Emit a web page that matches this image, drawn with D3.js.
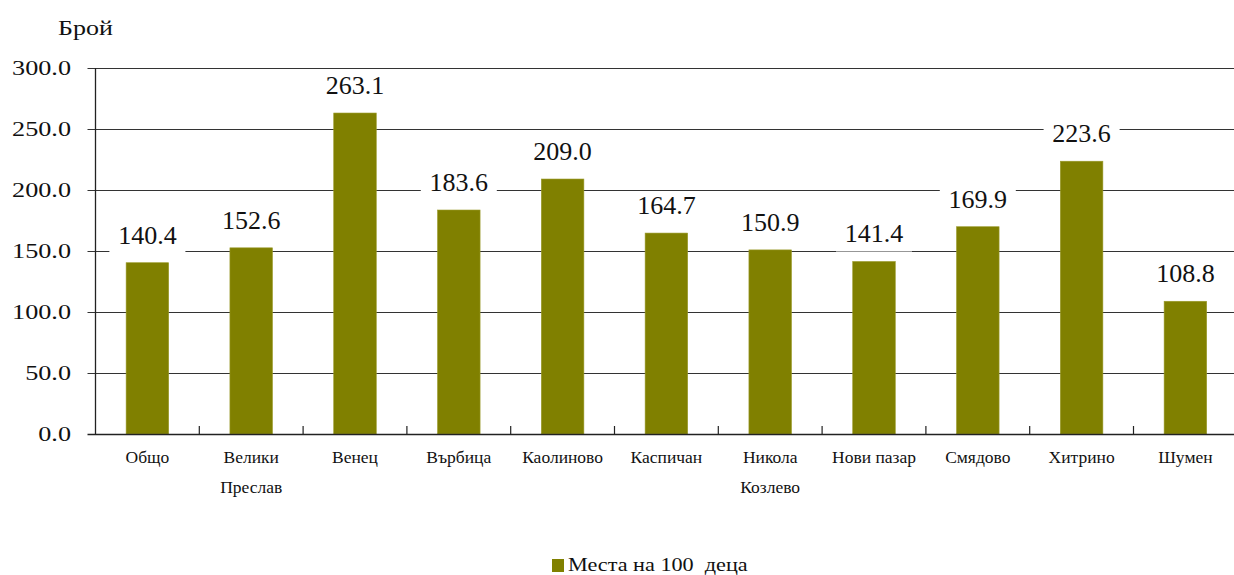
<!DOCTYPE html>
<html>
<head>
<meta charset="utf-8">
<script src="https://cdn.jsdelivr.net/npm/d3@7/dist/d3.min.js"></script>
<style>
html,body{margin:0;padding:0;background:#fff;}
svg{display:block;}
</style>
</head>
<body>
<svg id="chart" width="1234" height="575"></svg>
<script>
const categories = [["Общо"],["Велики","Преслав"],["Венец"],["Върбица"],["Каолиново"],["Каспичан"],["Никола","Козлево"],["Нови пазар"],["Смядово"],["Хитрино"],["Шумен"]];
const values = [140.4,152.6,263.1,183.6,209.0,164.7,150.9,141.4,169.9,223.6,108.8];
const yTicks = [0,50,100,150,200,250,300];
const seriesName = "Места на 100  деца";
const yTitle = "Брой";

const FONT = "'Liberation Serif', 'Times New Roman', Times, serif";
const svg = d3.select("#chart").attr("font-family", FONT);
const W = 1234;
const pL = 95.5, pR = 1237.3, pT = 68, pB = 434;
const color = "#808000";

const x = d3.scaleBand().domain(d3.range(categories.length)).range([pL, pR]);
const y = d3.scaleLinear().domain([0,300]).range([pB, pT]);
const barW = x.bandwidth()*0.41;

// gridlines
svg.append("g").selectAll("line").data(yTicks.filter(d=>d>0)).join("line")
  .attr("x1", pL-8).attr("x2", W).attr("y1", d=>Math.round(y(d))+0.5).attr("y2", d=>Math.round(y(d))+0.5)
  .attr("stroke","#333").attr("stroke-width",1);

// bars
svg.append("g").selectAll("rect").data(values).join("rect")
  .attr("x",(d,i)=>x(i)+(x.bandwidth()-barW)/2)
  .attr("width",barW)
  .attr("y",d=>y(d))
  .attr("height",d=>y(0)-y(d))
  .attr("fill",color)
  .attr("stroke","#9a9a2a").attr("stroke-width",0.6);

// axes lines
svg.append("line").attr("x1",Math.round(pL)-0.5).attr("x2",Math.round(pL)-0.5).attr("y1",pT).attr("y2",pB+1).attr("stroke","#222").attr("stroke-width",1.3);
svg.append("line").attr("x1",pL-8).attr("x2",W).attr("y1",Math.round(y(0))+0.5).attr("y2",Math.round(y(0))+0.5).attr("stroke","#222").attr("stroke-width",1.3);
// x ticks (inside)
svg.append("g").selectAll("line").data(d3.range(1,categories.length)).join("line")
  .attr("x1",d=>x(d)).attr("x2",d=>x(d)).attr("y1",pB-8).attr("y2",pB)
  .attr("stroke","#222").attr("stroke-width",1.2);

// y tick labels (horizontally stretched)
svg.append("g").selectAll("text").data(yTicks).join("text")
  .attr("font-family", FONT)
  .attr("transform",d=>`translate(71,${y(d)+7}) scale(1.31,1)`)
  .attr("text-anchor","end").attr("font-size",20).attr("fill","#111")
  .text(d=>d3.format(".1f")(d));

// y title
svg.append("text").attr("font-family", FONT).attr("transform","translate(58,35) scale(1.3,1)").attr("font-size",20).attr("fill","#111").text(yTitle);

// value labels with white boxes
const lab = svg.append("g").selectAll("g").data(values).join("g")
  .attr("transform",(d,i)=>`translate(${x(i)+x.bandwidth()/2},${y(d)-19})`);
lab.append("rect").attr("x",-38).attr("width",76).attr("y",-22).attr("height",31).attr("fill","#fff");
lab.append("text").attr("font-family", FONT).attr("text-anchor","middle").attr("font-size",26).attr("fill","#111").text(d=>d3.format(".1f")(d));

// x labels
const xl = svg.append("g").selectAll("text").data(categories).join("text")
  .attr("font-family", FONT)
  .attr("text-anchor","middle").attr("font-size",17.5).attr("fill","#111")
  .attr("x",(d,i)=>x(i)+x.bandwidth()/2).attr("y",463);
xl.selectAll("tspan").data(d=>d).join("tspan")
  .attr("x",function(){return this.parentNode.getAttribute("x");})
  .attr("dy",(d,j)=>j===0?0:30).text(d=>d);

// legend
svg.append("rect").attr("x",552).attr("y",559).attr("width",12).attr("height",13).attr("fill",color);
svg.append("text").attr("font-family", FONT).attr("transform","translate(568,571) scale(1.17,1)").attr("font-size",19).attr("fill","#111")
  .attr("xml:space","preserve").style("white-space","pre").text(seriesName);
</script>
</body>
</html>
